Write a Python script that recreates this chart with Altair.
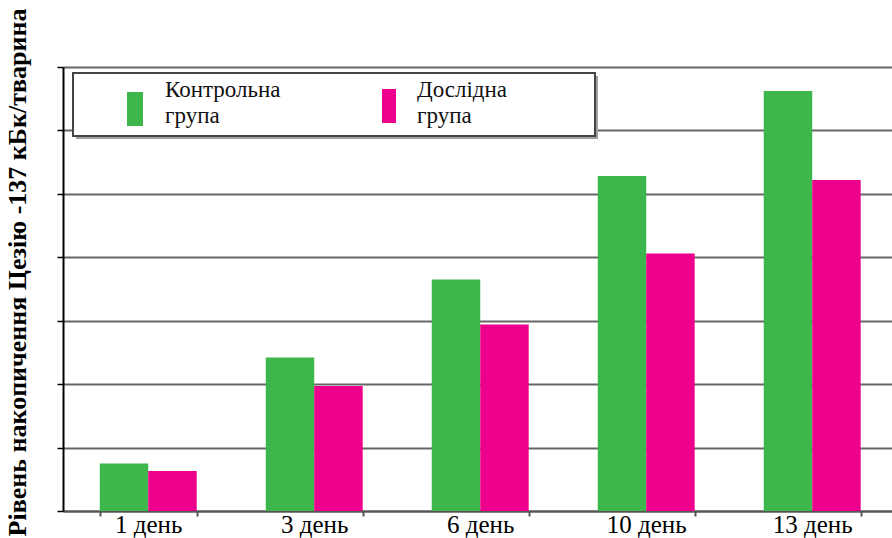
import altair as alt
import pandas as pd

days = ["1 день", "3 день", "6 день", "10 день", "13 день"]
groups = ["Контрольна група", "Дослідна група"]
control = [0.75, 2.42, 3.65, 5.28, 6.62]
experimental = [0.63, 1.97, 2.94, 4.06, 5.22]
colors = ["#3db64b", "#ec008c"]
y_title = "Рівень накопичення Цезію -137 кБк/тварина"

rows = []
for d, c, e in zip(days, control, experimental):
    rows.append({"day": d, "group": groups[0], "value": c})
    rows.append({"day": d, "group": groups[1], "value": e})
df = pd.DataFrame(rows)

color_scale = alt.Scale(domain=groups, range=colors)
SERIF = "'Liberation Serif', 'Times New Roman', 'DejaVu Serif', serif"

bars = alt.Chart(df).mark_bar().encode(
    x=alt.X("day:N", sort=days,
            scale=alt.Scale(paddingInner=0.416, paddingOuter=0.205, align=0.54),
            axis=alt.Axis(title=None, labelAngle=0, labelFont=SERIF, labelFontSize=25,
                          labelColor="black", labelBaseline="alphabetic", labelPadding=16,
                          domainColor="#555", domainWidth=2, tickColor="#555",
                          tickSize=5, tickWidth=2, tickBand="extent", grid=False)),
    xOffset=alt.XOffset("group:N", sort=groups,
                        scale=alt.Scale(paddingInner=0, paddingOuter=0)),
    y=alt.Y("value:Q", scale=alt.Scale(domain=[0, 7], nice=False),
            axis=alt.Axis(values=list(range(8)), labels=False, grid=True,
                          gridColor="#666", gridWidth=2.2,
                          domainColor="black", domainWidth=2,
                          tickColor="black", tickSize=6, tickWidth=1.5,
                          title=y_title, titleFont=SERIF, titleFontSize=26,
                          titleFontWeight="bold", titleColor="black",
                          titleAngle=270, titleAlign="center", titleBaseline="middle",
                          titleX=-46, titleY=205)),
    color=alt.Color("group:N", scale=color_scale, legend=None),
)

box_df = pd.DataFrame({"group": [groups[0]]})
shadow = alt.Chart(box_df).mark_rect(fill="#a0a0a0").encode(
    x=alt.value(13), x2=alt.value(535), y=alt.value(9), y2=alt.value(72))
box = alt.Chart(box_df).mark_rect(fill="white", stroke="#444", strokeWidth=2).encode(
    x=alt.value(10), x2=alt.value(532), y=alt.value(6), y2=alt.value(69))

legend_layers = []
swatch_pos = [(64, 80, 25, 59), (319, 333, 22, 56)]
text_pos = [(102, 30), (354, 30)]
for g, (x1, x2, y1, y2), (tx, ty) in zip(groups, swatch_pos, text_pos):
    gdf = pd.DataFrame({"group": [g]})
    sw = alt.Chart(gdf).mark_rect().encode(
        x=alt.value(x1), x2=alt.value(x2), y=alt.value(y1), y2=alt.value(y2),
        color=alt.Color("group:N", scale=color_scale, legend=None))
    tx_mark = alt.Chart(gdf).mark_text(
        font=SERIF, fontSize=23, align="left", baseline="alphabetic",
        lineHeight=26, color="#111").encode(
        x=alt.value(tx), y=alt.value(ty), text=alt.value(g.split(" ")))
    legend_layers += [sw, tx_mark]

chart = alt.layer(bars, shadow, box, *legend_layers).properties(
    width=829, height=444,
    padding={"left": 63, "top": 67, "right": 0, "bottom": 27},
    autosize=alt.AutoSizeParams(type="none"),
    background="white",
).configure_view(stroke=None)

chart.save("out.html", embed_options={"renderer": "svg", "actions": False})
